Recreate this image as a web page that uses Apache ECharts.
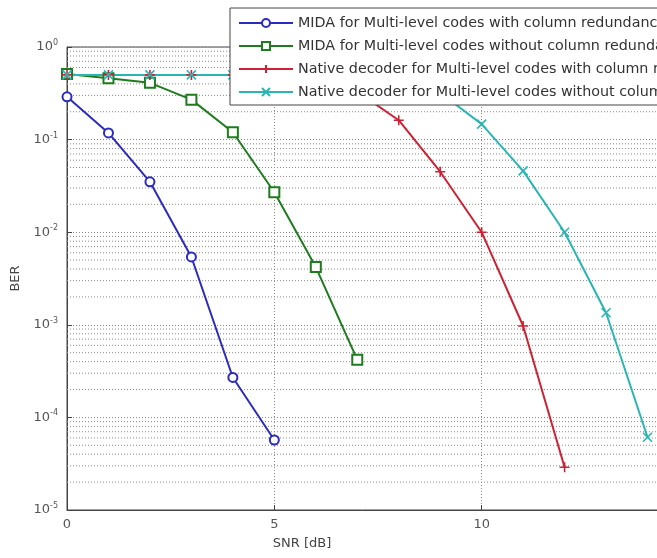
<!DOCTYPE html>
<html>
<head>
<meta charset="utf-8">
<script src="https://cdn.jsdelivr.net/npm/echarts@6/dist/echarts.min.js"></script>
<style>
  html, body { margin: 0; padding: 0; background: #fff; }
  #chart { width: 657px; height: 558px; }
</style>
</head>
<body>
<div id="chart"></div>
<script>
// SNR values (dB) per curve
var snrBlue = [0, 1, 2, 3, 4, 5];
var snrGreen = [0, 1, 2, 3, 4, 5, 6, 7];
var snrRed = [0, 1, 2, 3, 4, 5, 6, 7, 8, 9, 10, 11, 12];
var snrCyan = [0, 1, 2, 3, 4, 5, 6, 7, 8, 9, 10, 11, 12, 13, 14];

// BER values
var berBlue = [0.29, 0.118, 0.035, 0.0054, 2.7e-4, 5.7e-5];
var berGreen = [0.51, 0.46, 0.41, 0.27, 0.12, 0.027, 0.0042, 4.2e-4];
var berRed = [0.5, 0.5, 0.5, 0.5, 0.5, 0.5, 0.49, 0.33, 0.162, 0.045, 0.01, 9.7e-4, 2.9e-5];
var berCyan = [0.5, 0.5, 0.5, 0.5, 0.5, 0.5, 0.5, 0.5, 0.49, 0.32, 0.147, 0.046, 0.01, 1.35e-3, 6.1e-5];

var seriesNames = [
    'MIDA for Multi-level codes with column redundancy',
    'MIDA for Multi-level codes without column redundancy',
    'Native decoder for Multi-level codes with column redundancy',
    'Native decoder for Multi-level codes without column redundancy'
];

(() => {
    var font = '"DejaVu Sans", Verdana, sans-serif';
    var gridColor = '#8a8a8a';
    var dots = [1, 2];
    var xMin = 0, xMax = 15;

    // minor log grid (2..9 of each decade), drawn as broken horizontal line
    var minorGrid = [];
    for (var d = -5; d < 0; d++) {
        for (var k = 2; k <= 9; k++) {
            var v = k * Math.pow(10, d);
            minorGrid.push([xMin, v], [xMax, v], [xMax, '-']);
        }
    }

    let pair = (xs, ys) => xs.map((x, i) => [x, ys[i]]);

    let makeSeries = (name, data, color, symbol, size) => ({
        name: name,
        type: 'line',
        data: data,
        z: 3,
        symbol: symbol,
        symbolSize: size,
        showAllSymbol: true,
        lineStyle: { color: color, width: 2 },
        itemStyle: { color: color, borderColor: color, borderWidth: 1.6 },
        emphasis: { disabled: true },
        animation: false
    });

    var option = {
        animation: false,
        textStyle: { fontFamily: font },
        grid: {
            left: 67,
            top: 47,
            width: 622,
            height: 463,
            outerBoundsMode: 'none',
            containLabel: false,
            show: true,
            borderColor: '#444',
            borderWidth: 1
        },
        legend: {
            orient: 'vertical',
            left: 230,
            top: 8,
            data: seriesNames,
            itemWidth: 54,
            itemHeight: 10,
            itemGap: 9,
            padding: [8, 6, 6, 8],
            backgroundColor: '#fff',
            borderColor: '#444',
            borderWidth: 1,
            borderRadius: 0,
            textStyle: { fontSize: 14.3, color: '#333', fontFamily: font }
        },
        xAxis: {
            type: 'value',
            min: xMin,
            max: xMax,
            interval: 5,
            name: 'SNR [dB]',
            nameLocation: 'middle',
            nameGap: 27,
            nameTextStyle: { fontSize: 13, color: '#444', padding: [0, 152, 0, 0] },
            axisLine: { lineStyle: { color: '#444' } },
            axisTick: { inside: true, length: 5, lineStyle: { color: '#444' } },
            axisLabel: { fontSize: 13, color: '#555', margin: 8 },
            splitLine: { show: true, lineStyle: { color: gridColor, type: dots } }
        },
        yAxis: {
            type: 'log',
            logBase: 10,
            min: 1e-5,
            max: 1,
            name: 'BER',
            nameLocation: 'middle',
            nameGap: 30,
            nameTextStyle: { fontSize: 13, color: '#444' },
            axisLine: { lineStyle: { color: '#444' } },
            axisTick: { inside: true, length: 5, lineStyle: { color: '#444' } },
            axisLabel: {
                margin: 9,
                formatter: v => '{b|10}{e|' + Math.round(Math.log10(v)) + '}',
                rich: {
                    b: { fontSize: 13, color: '#555', lineHeight: 16, fontFamily: font },
                    e: { fontSize: 8, color: '#555', lineHeight: 8, verticalAlign: 'top', fontFamily: font }
                }
            },
            splitLine: { show: true, lineStyle: { color: gridColor, type: dots } }
        },
        series: [
            {
                name: 'minor grid',
                type: 'line',
                data: minorGrid,
                z: 1,
                silent: true,
                symbol: 'none',
                connectNulls: false,
                lineStyle: { color: gridColor, type: dots, width: 1 },
                emphasis: { disabled: true },
                animation: false
            },
            makeSeries(seriesNames[0], pair(snrBlue, berBlue), '#2b2bbf', 'emptyCircle', 9),
            makeSeries(seriesNames[1], pair(snrGreen, berGreen), '#1e7b1e', 'emptyRect', 10),
            makeSeries(seriesNames[2], pair(snrRed, berRed), '#cc2233', 'path://M5,0L5,10M0,5L10,5', 10),
            makeSeries(seriesNames[3], pair(snrCyan, berCyan), '#2ab5b5', 'path://M0,0L10,10M10,0L0,10', 9)
        ]
    };

    var myChart = echarts.init(document.getElementById('chart'));
    myChart.setOption(option);
})();
</script>
</body>
</html>
